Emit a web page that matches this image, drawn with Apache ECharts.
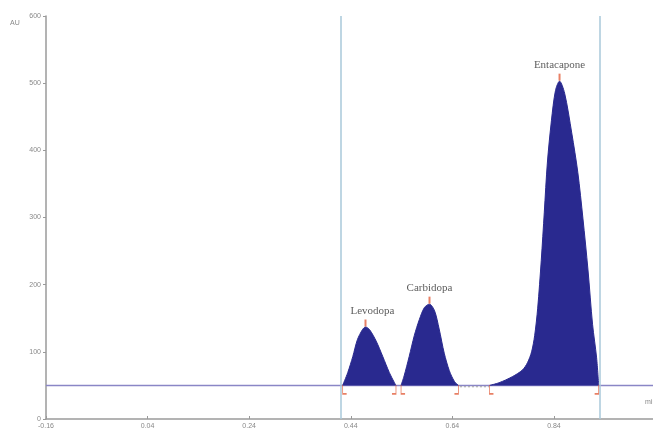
<!DOCTYPE html>
<html>
<head>
<meta charset="utf-8">
<script src="https://cdn.jsdelivr.net/npm/echarts@6/dist/echarts.min.js"></script>
<style>
    html, body { margin: 0; padding: 0; background: #fff; }
    #main { width: 653px; height: 435px; }
</style>
</head>
<body>
<div id="main"></div>
<script>
// chromatogram data (min, AU)
var xTicks = [-0.16, 0.04, 0.24, 0.44, 0.64, 0.84];
var yTicks = [0, 100, 200, 300, 400, 500, 600];
var baselineX = [-0.16, 1.035];
var baselineY = [50, 50];
var cursorX = [0.423, 0.929];

var levodopaX = [0.424, 0.434, 0.444, 0.453, 0.463, 0.469, 0.477, 0.490, 0.503, 0.516, 0.526, 0.529];
var levodopaY = [50, 69, 93, 118, 133, 137, 133, 116, 93, 69, 54, 50];
var carbidopaX = [0.539, 0.545, 0.555, 0.565, 0.575, 0.585, 0.595, 0.605, 0.614, 0.624, 0.634, 0.644, 0.652];
var carbidopaY = [50, 64, 93, 124, 148, 166, 171, 161, 134, 98, 72, 56, 50];
var entacaponeX = [0.713, 0.732, 0.758, 0.778, 0.788, 0.796, 0.802, 0.808, 0.815, 0.821, 0.827, 0.835, 0.843, 0.851, 0.861, 0.875, 0.887, 0.897, 0.907, 0.916, 0.924, 0.928];
var entacaponeY = [50, 54, 63, 73, 84, 100, 124, 165, 236, 308, 381, 444, 489, 503, 485, 426, 367, 299, 222, 141, 91, 50];

var gapX = [0.655, 0.712];
var gapY = [48, 48];

var peakNames = ['Levodopa', 'Carbidopa', 'Entacapone'];
var peakX = [0.469, 0.595, 0.851];
var peakY = [137, 171, 503];
var peakStart = [0.424, 0.539, 0.713];
var peakEnd = [0.529, 0.652, 0.928];

(function () {
    var myChart = echarts.init(document.getElementById('main'));
    var fill = '#29298f';
    var red = '#e2603e';
    var axisGray = '#9a9a9a';

    function pairs(xs, ys) {
        return xs.map(function (x, i) { return [x, ys[i]]; });
    }

    function peakSeries(name, xs, ys) {
        return {
            name: name,
            type: 'line',
            smooth: 0.3,
            symbol: 'none',
            lineStyle: { color: fill, width: 1 },
            areaStyle: { color: fill, opacity: 1, origin: 50 },
            data: pairs(xs, ys),
            z: 3
        };
    }

    var option = {
        animation: false,
        backgroundColor: '#fff',
        grid: { left: 46, right: 0, top: 16, bottom: 16, containLabel: false },
        xAxis: {
            type: 'value',
            min: xTicks[0],
            max: 1.035,
            interval: 0.2,
            splitLine: { show: false },
            axisLine: { onZero: false, lineStyle: { color: axisGray, width: 1.5 } },
            axisTick: { inside: true, length: 3, lineStyle: { color: axisGray } },
            axisLabel: {
                color: '#888',
                fontSize: 7,
                margin: 4,
                showMaxLabel: false,
                formatter: function (v) { return v.toFixed(2); }
            }
        },
        yAxis: {
            type: 'value',
            min: yTicks[0],
            max: yTicks[yTicks.length - 1],
            interval: 100,
            splitLine: { show: false },
            axisLine: { show: true, onZero: false, lineStyle: { color: axisGray, width: 1.5 } },
            axisTick: { show: true, length: 3, lineStyle: { color: axisGray } },
            axisLabel: { color: '#888', fontSize: 7, margin: 5 }
        },
        graphic: [
            { type: 'text', left: 10, top: 20, style: { text: 'AU', fill: '#888', font: '7px sans-serif' } },
            { type: 'text', left: 645, top: 399, style: { text: 'min', fill: '#888', font: '7px sans-serif' } }
        ],
        series: [
            {
                name: 'baseline',
                type: 'line',
                symbol: 'none',
                lineStyle: { color: '#8a86c6', width: 1.5 },
                data: pairs(baselineX, baselineY),
                z: 2,
                markLine: {
                    silent: true,
                    symbol: 'none',
                    label: { show: false },
                    lineStyle: { color: '#a9c9da', width: 1.5, type: 'solid' },
                    data: cursorX.map(function (x) { return { xAxis: x }; })
                }
            },
            {
                name: 'gap',
                type: 'line',
                symbol: 'none',
                lineStyle: { color: '#a0a0a0', width: 1, type: [2, 2] },
                data: pairs(gapX, gapY),
                z: 4
            },
            peakSeries('Levodopa', levodopaX, levodopaY),
            peakSeries('Carbidopa', carbidopaX, carbidopaY),
            peakSeries('Entacapone', entacaponeX, entacaponeY),
            {
                name: 'apex',
                type: 'scatter',
                symbol: 'rect',
                symbolSize: [2, 7],
                symbolOffset: [0, -4],
                itemStyle: { color: red },
                label: {
                    show: true,
                    position: 'top',
                    distance: 3,
                    formatter: '{b}',
                    color: '#333',
                    fontSize: 11,
                    fontFamily: 'Liberation Serif'
                },
                data: peakNames.map(function (n, i) {
                    var item = { name: n, value: [peakX[i], peakY[i]] };
                    if (i === 0) item.label = { offset: [7, 0] };
                    return item;
                }),
                z: 6
            },
            {
                name: 'start',
                type: 'scatter',
                symbol: 'path://M0,0 L0,10 L4,10',
                symbolKeepAspect: false,
                symbolSize: [4, 9],
                symbolOffset: [2, 4],
                itemStyle: { color: 'transparent', borderColor: red, borderWidth: 1.2 },
                data: peakStart.map(function (x) { return [x, 50]; }),
                z: 6
            },
            {
                name: 'end',
                type: 'scatter',
                symbol: 'path://M4,0 L4,10 L0,10',
                symbolKeepAspect: false,
                symbolSize: [4, 9],
                symbolOffset: [-2, 4],
                itemStyle: { color: 'transparent', borderColor: red, borderWidth: 1.2 },
                data: peakEnd.map(function (x) { return [x, 50]; }),
                z: 6
            }
        ]
    };
    myChart.setOption(option);
    window.addEventListener('resize', function () {
        myChart.resize();
    });
})();
</script>
</body>
</html>
